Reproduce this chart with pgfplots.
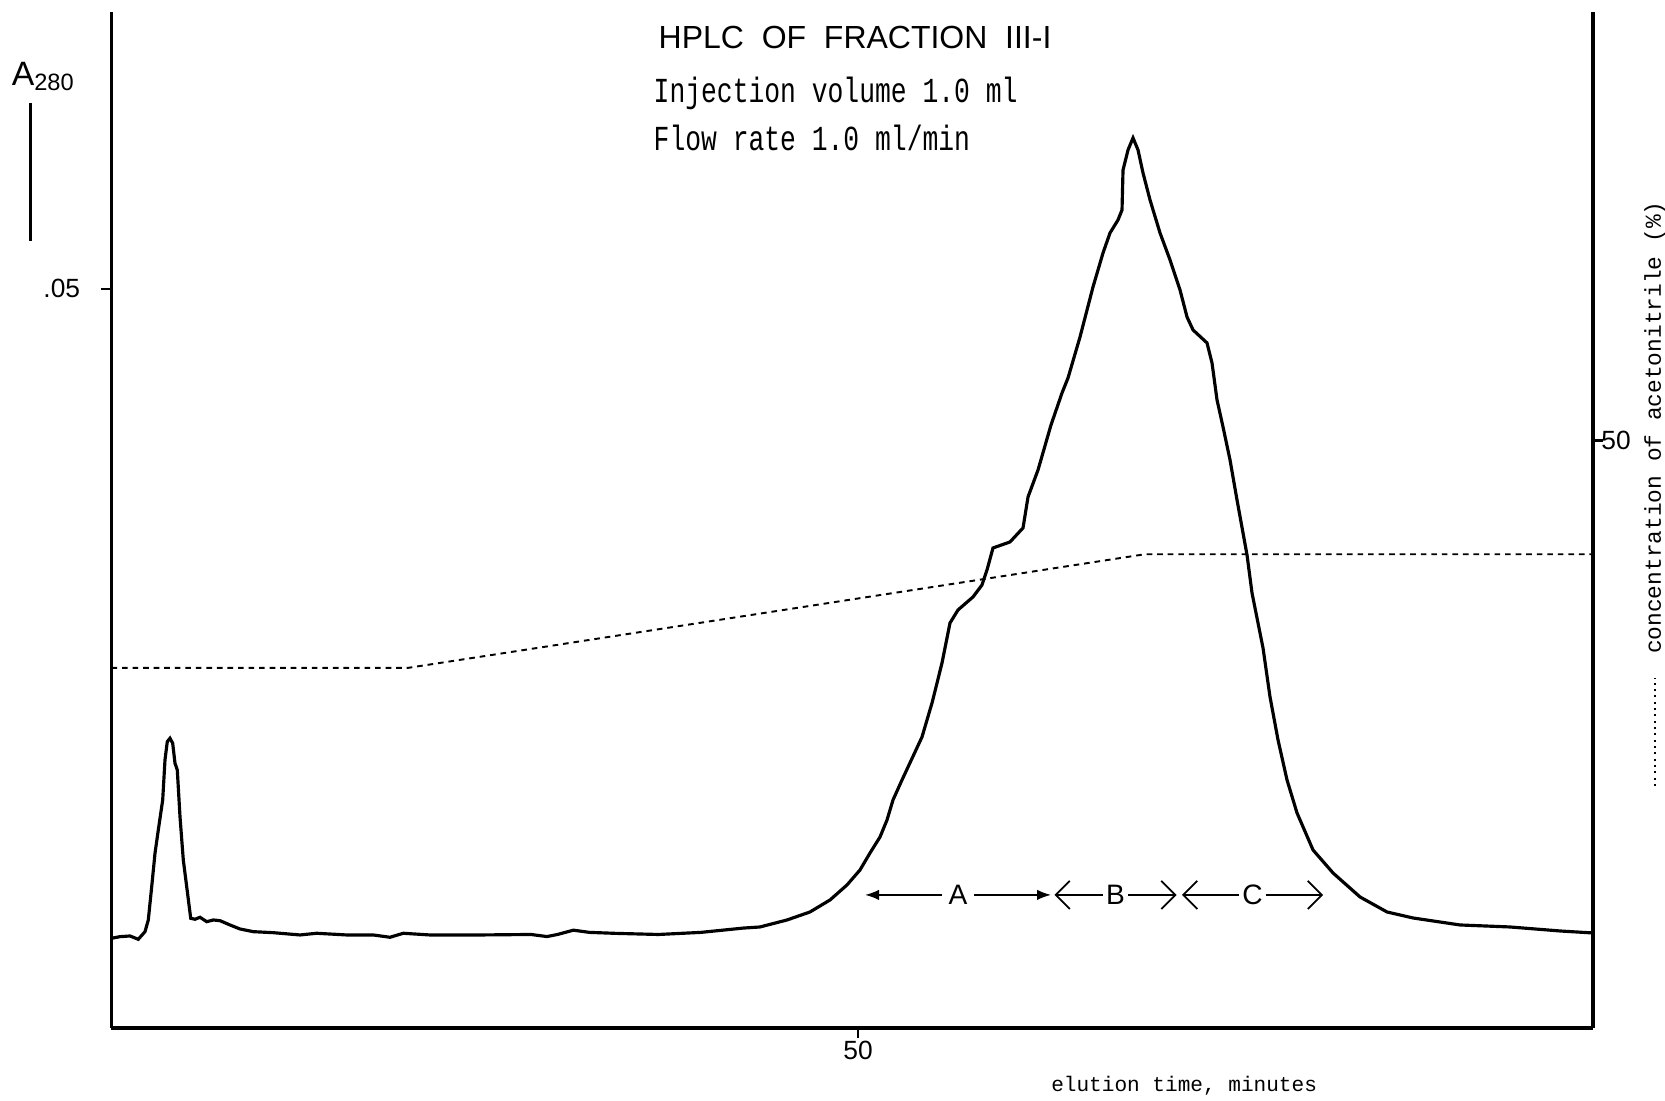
\documentclass[border=0pt]{standalone}
\usepackage{fontspec}
\setmainfont{Liberation Sans}
\newfontfamily\tw[FakeStretch=0.75]{Liberation Mono}
\newfontfamily\twn{Liberation Mono}
\usepackage{pgfplots}
\usepackage{pgfplotstable}
\pgfplotsset{compat=1.18}
\usetikzlibrary{arrows.meta}

% A280 trace, elution time (min) vs absorbance
\pgfplotstableread{
t A
0.000 0.006067
0.569 0.006176
1.239 0.006223
1.795 0.006000
2.244 0.006514
2.465 0.007305
2.693 0.009558
2.914 0.011817
3.135 0.013393
3.429 0.015422
3.583 0.018128
3.737 0.019365
3.918 0.019595
4.099 0.019257
4.253 0.017904
4.407 0.017451
4.588 0.014292
4.809 0.011364
5.037 0.009558
5.305 0.007420
5.593 0.007353
5.928 0.007488
6.376 0.007190
6.819 0.007305
7.267 0.007258
7.937 0.006967
8.607 0.006696
9.498 0.006514
10.837 0.006446
12.626 0.006291
13.744 0.006406
15.754 0.006291
17.535 0.006291
18.654 0.006135
19.545 0.006406
21.333 0.006291
24.682 0.006291
28.098 0.006324
29.169 0.006182
29.873 0.006324
30.938 0.006615
32.009 0.006466
33.791 0.006399
36.631 0.006324
39.478 0.006466
42.317 0.006757
43.436 0.006832
45.245 0.007305
46.785 0.007846
48.125 0.008658
49.263 0.009673
50.134 0.010687
50.804 0.011837
51.474 0.012919
51.943 0.014069
52.344 0.015422
52.947 0.016775
54.287 0.019683
54.957 0.021983
55.626 0.024689
56.162 0.027394
56.698 0.028274
57.702 0.029153
58.305 0.029965
58.640 0.030979
59.042 0.032467
60.181 0.032873
61.052 0.033820
61.387 0.035917
62.057 0.037743
62.927 0.040787
63.664 0.042951
64.066 0.043966
64.870 0.046739
65.740 0.050121
66.410 0.052421
66.879 0.053774
67.415 0.054653
67.683 0.055330
67.750 0.058035
68.085 0.059388
68.420 0.060200
68.754 0.059388
69.089 0.057832
69.558 0.056006
70.228 0.053774
70.898 0.051948
71.567 0.049918
72.036 0.048092
72.438 0.047213
73.376 0.046333
73.711 0.044981
74.046 0.042478
74.448 0.040652
74.917 0.038420
75.385 0.035714
75.787 0.033482
76.055 0.031994
76.390 0.029423
76.792 0.027394
77.127 0.025703
77.596 0.022389
78.132 0.019480
78.734 0.016775
79.404 0.014543
80.476 0.012040
81.815 0.010484
83.624 0.008861
85.432 0.007846
87.174 0.007440
90.322 0.006967
93.671 0.006832
97.020 0.006561
99.230 0.006426
}\trace

% acetonitrile gradient (%)
\pgfplotstableread{
t acn
0     30
19.86 30
69.2  40
99.23 40
}\gradient

\begin{document}
\begin{tikzpicture}
\path[use as bounding box] (-1.115,-0.73) rectangle (15.535,10.28);
\pgfplotsset{
  chrom/.style={
    width=14.815cm, height=10.16cm, scale only axis,
    at={(0,0)}, anchor=south west,
    xmin=0, xmax=99.23,
    tick align=outside, major tick length=0.1cm,
    axis line style={line width=0.9pt},
    tick style={line width=0.7pt, black},
    ticklabel style={font=\fontsize{7.5}{8}\selectfont},
    /pgf/number format/assume math mode=true,
  },
}
\begin{axis}[chrom,
  ymin=0, ymax=0.06872,
  axis x line*=bottom, axis y line*=left,
  xtick={50}, ytick={0.05}, yticklabels={.05},
  scaled y ticks=false,
  xticklabel style={yshift=0.09cm},
  yticklabel style={xshift=-0.09cm},
  xlabel={\twn\fontsize{6}{7}\selectfont elution time, minutes},
  xlabel style={at={(axis description cs:0.724,-0.057)}, anchor=center},
  ylabel={\fontsize{9.6}{10}\selectfont A\textsubscript{280}},
  ylabel style={rotate=-90, at={(axis description cs:-0.0757,0.928)}, anchor=base west},
]
\addplot[black, line width=0.9pt] table[x=t, y=A] {\trace};

\draw[{Latex[length=4pt]}-{Latex[length=4pt]}, line width=0.5pt]
  (axis cs:50.47,0.009) -- node[fill=white, inner sep=2pt, font=\fontsize{8}{9}\selectfont] {A} (axis cs:62.93,0.009);
\draw[{Straight Barb[length=4pt]}-{Straight Barb[length=4pt]}, line width=0.5pt]
  (axis cs:63.16,0.009) -- node[fill=white, inner sep=1pt, font=\fontsize{8}{9}\selectfont] {B} (axis cs:71.34,0.009);
\draw[{Straight Barb[length=4pt]}-{Straight Barb[length=4pt]}, line width=0.5pt]
  (axis cs:71.70,0.009) -- node[fill=white, inner sep=1pt, font=\fontsize{8}{9}\selectfont] {C} (axis cs:81.15,0.009);
\end{axis}

\begin{axis}[chrom,
  ymin=-1.7, ymax=87.74,
  axis x line=none, axis y line*=right,
  ytick={50},
  yticklabel style={xshift=-0.14cm},
  ylabel={\twn\fontsize{6.5}{7}\selectfont concentration of acetonitrile (\%)},
  ylabel style={at={(axis description cs:1.0418,0.356)}, anchor=west},
]
\addplot[black, line width=0.55pt, dash pattern=on 1.6pt off 1.4pt] table[x=t, y=acn] {\gradient};
\end{axis}

% scale bar and legend dots
\draw[line width=0.9pt] (-0.807,9.25) -- (-0.807,7.87);
\draw[line width=0.7pt, dash pattern=on 0.6pt off 1.2pt] (15.435,2.42) -- (15.435,3.5);

% header text
\node[anchor=base west, inner sep=0pt, font=\fontsize{9.1}{10}\selectfont]
  at (5.465,9.79) {HPLC\ \ OF\ \ FRACTION\ \ III-I};
\node[anchor=base west, inner sep=0pt, font=\tw\fontsize{10}{11}\selectfont]
  at (5.415,9.25) {Injection volume 1.0 ml};
\node[anchor=base west, inner sep=0pt, font=\tw\fontsize{10}{11}\selectfont]
  at (5.415,8.77) {Flow rate 1.0 ml/min};
\end{tikzpicture}
\end{document}
